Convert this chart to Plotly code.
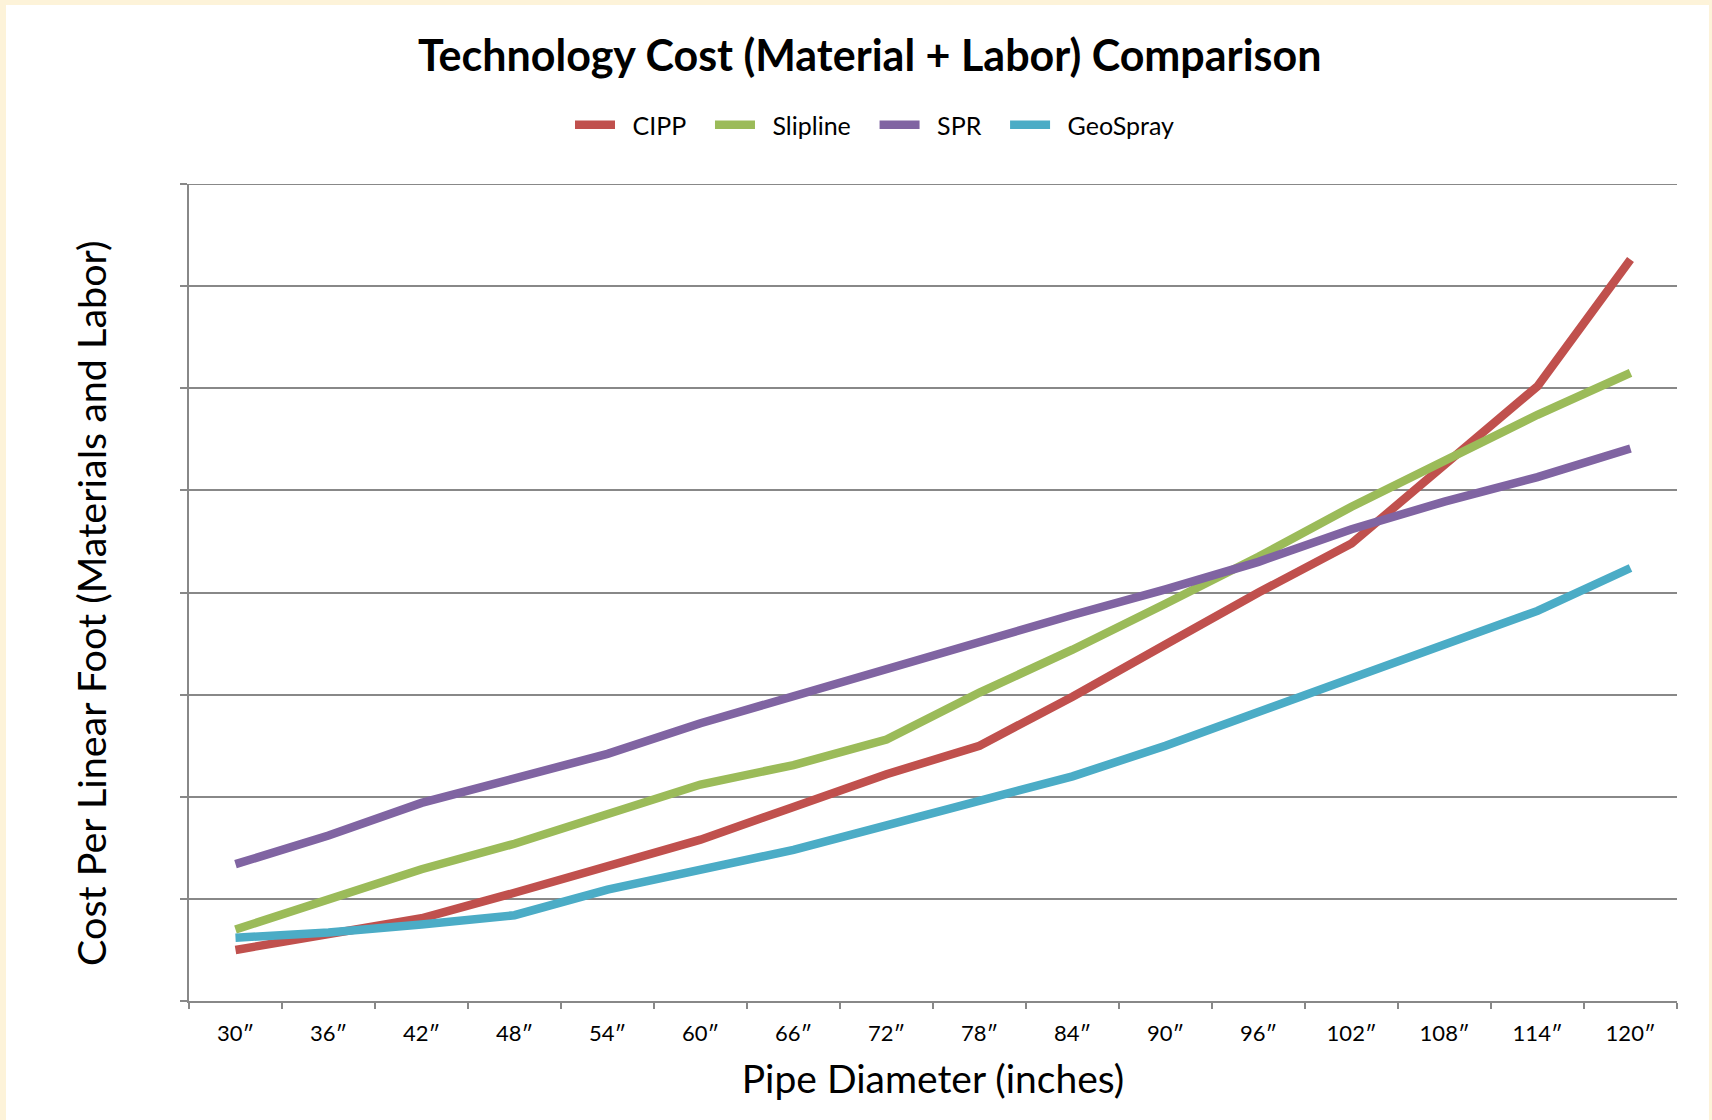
import plotly.graph_objects as go

# Pipe diameters (inches) along the x axis
diameters = ["30″", "36″", "42″", "48″", "54″", "60″", "66″", "72″",
             "78″", "84″", "90″", "96″", "102″", "108″", "114″", "120″"]

# Cost per linear foot, materials and labor
cipp = [50, 65, 81, 106, 132, 158, 190, 222, 250, 298, 349, 400, 448, 526, 602, 726]
slipline = [70, 99, 129, 154, 183, 212, 231, 256, 302, 344, 389, 435, 484, 529, 574, 615]
spr = [134, 162, 194, 219, 242, 272, 299, 324, 352, 378, 403, 430, 462, 489, 513, 541]
geospray = [62, 67, 75, 84, 109, 129, 148, 172, 195, 220, 250, 283, 315, 347, 382, 424]

series = [
    ("CIPP", cipp, "#C0504D"),
    ("Slipline", slipline, "#9BBB59"),
    ("SPR", spr, "#8064A2"),
    ("GeoSpray", geospray, "#4BACC6"),
]

y_max = 800
y_step = 100

W, H = 1712, 1120
L, R, T, B = 189, 35, 184, 119
pw, ph = W - L - R, H - T - B

# legend entries get a little breathing room around the label
LEAD, TRAIL = "\u2002", "\u2003"

fig = go.Figure()
for name, vals, color in series:
    fig.add_trace(go.Scatter(
        x=diameters, y=vals, name=LEAD + name + TRAIL, mode="lines",
        line=dict(color=color, width=8.5),
    ))

def px_x(p):
    return (p - L) / pw

def px_y(p):
    return 1 - (p - T) / ph

grid = "#888888"

fig.update_layout(
    width=W, height=H,
    margin=dict(l=L, r=R, t=T, b=B),
    paper_bgcolor="#FDF3D9",
    plot_bgcolor="rgba(0,0,0,0)",
    font=dict(family="Lato, Noto Sans, sans-serif", color="#000000"),
    title=dict(
        text="<b>Technology Cost (Material + Labor) Comparison</b>",
        x=0.508, xanchor="center", xref="container",
        y=1 - 56 / H, yanchor="middle", yref="container",
        font=dict(size=43, family="Lato, sans-serif", color="#000000"),
    ),
    legend=dict(
        orientation="h", x=px_x(884), xanchor="center",
        y=px_y(125), yanchor="middle",
        font=dict(size=25, color="#000000"),
        bgcolor="rgba(0,0,0,0)", itemwidth=40,
    ),
    xaxis=dict(
        type="category", range=[-0.5, 15.5],
        showgrid=False, showline=True, linecolor=grid, linewidth=2,
        ticks="outside", tickson="boundaries", ticklen=6, tickcolor=grid, tickwidth=2,
        ticklabelstandoff=12,
        tickfont=dict(size=22, color="#000000"),
        title=dict(text="Pipe Diameter (inches)", font=dict(size=39, color="#000000"), standoff=20),
    ),
    yaxis=dict(
        range=[0, y_max], tickvals=list(range(0, y_max + 1, y_step)),
        showgrid=True, gridcolor=grid, gridwidth=2,
        showline=True, linecolor=grid, linewidth=2,
        ticks="outside", ticklen=7, tickcolor=grid, tickwidth=2,
        showticklabels=False, zeroline=False,
    ),
    annotations=[dict(
        text="Cost Per Linear Foot (Materials and Labor)",
        xref="paper", yref="paper", x=px_x(90), y=px_y(603),
        xanchor="center", yanchor="middle", textangle=-90, showarrow=False,
        font=dict(size=39.5, color="#000000"),
    )],
    shapes=[
        # white chart area inside the cream frame
        dict(type="rect", xref="paper", yref="paper", layer="below",
             x0=px_x(6), x1=px_x(1709), y0=px_y(5), y1=px_y(H + 5),
             fillcolor="#FFFFFF", line=dict(width=0)),
        # top gridline at the upper end of the value axis
        dict(type="line", xref="paper", yref="y", layer="below",
             x0=0, x1=1, y0=y_max, y1=y_max,
             line=dict(color=grid, width=2)),
    ],
)

fig.write_html("out.html")
